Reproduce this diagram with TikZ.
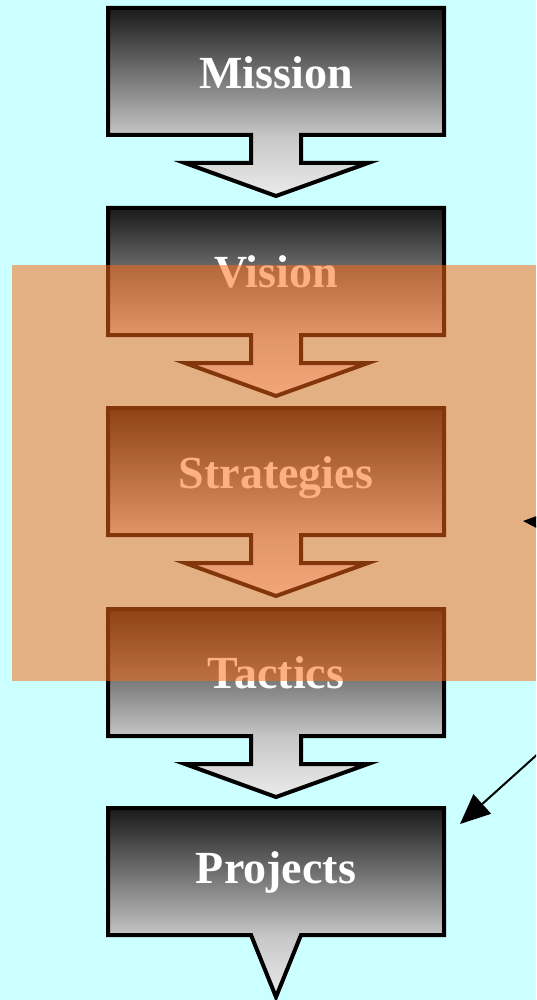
\documentclass[tikz,border=0pt]{standalone}
\usepackage{fontspec}
\setmainfont{Liberation Serif}
\usetikzlibrary{arrows.meta}
\definecolor{sky}{RGB}{204,255,255}
\definecolor{amber}{RGB}{250,105,20}
\pgfdeclareverticalshading{blockfade}{100bp}{color(0bp)=(black!8); color(25bp)=(black!8); color(41bp)=(black!22); color(75bp)=(black!90); color(100bp)=(black!90)}
\begin{document}
\begin{tikzpicture}[x=1pt, y=-1pt,
	block/.style={shading=blockfade, draw=black, line width=4pt, line join=miter},
	word/.style={text=white, font=\fontsize{46}{50}\selectfont\bfseries, anchor=base, inner sep=0pt},
	pointer/.style={line width=2pt, -{Triangle[length=30pt, width=26pt]}}]
	\fill[sky] (0,0) rectangle (536,1000);
	\clip (0,0) rectangle (536,1000);
	% blocks with their down arrows
	\path[block] (108,8) -- (444,8) -- (444,135) -- (301,135) -- (301,163) -- (368,163) -- (276,196) -- (185,163) -- (251,163) -- (251,135) -- (108,135) -- cycle;
	\path[block, shift={(0,200)}] (108,8) -- (444,8) -- (444,135) -- (301,135) -- (301,163) -- (368,163) -- (276,196) -- (185,163) -- (251,163) -- (251,135) -- (108,135) -- cycle;
	\path[block, shift={(0,400)}] (108,8) -- (444,8) -- (444,135) -- (301,135) -- (301,163) -- (368,163) -- (276,196) -- (185,163) -- (251,163) -- (251,135) -- (108,135) -- cycle;
	\path[block, shift={(0,601)}] (108,8) -- (444,8) -- (444,135) -- (301,135) -- (301,163) -- (368,163) -- (276,196) -- (185,163) -- (251,163) -- (251,135) -- (108,135) -- cycle;
	\path[block] (108,808) -- (444,808) -- (444,935) -- (301,935) -- (276,997) -- (251,935) -- (108,935) -- cycle;
	\node[word] (mission) at (276,89) {Mission};
	\node[word] (vision) at (276,287) {Vision};
	\node[word] (strategies) at (276,488) {Strategies};
	\node[word] (tactics) at (276,688) {Tactics};
	\node[word] (projects) at (276,883) {Projects};
	% highlight
	\fill[amber, opacity=0.52] (12,265) rectangle (536,681);
	% pointers from the right
	\coordinate (tipA) at (523,521);
	\coordinate (tailA) at (600,526);
	\coordinate (tipB) at (460,824);
	\coordinate (tailB) at (560,734);
	\draw[pointer] (tailA) -- (tipA);
	\draw[pointer] (tailB) -- (tipB);
\end{tikzpicture}
\end{document}
